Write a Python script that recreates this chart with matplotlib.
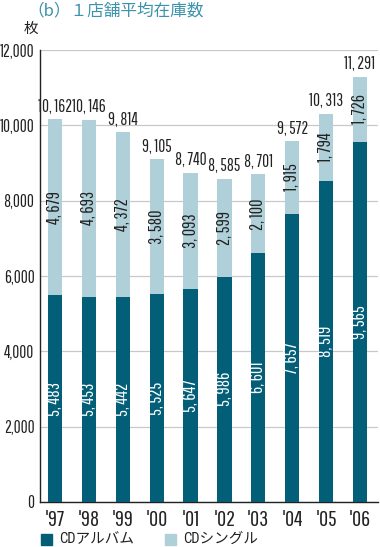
import matplotlib
matplotlib.use("Agg")
import matplotlib.pyplot as plt
from matplotlib.patches import Rectangle

years = ["'97", "'98", "'99", "'00", "'01", "'02", "'03", "'04", "'05", "'06"]
album = [5483, 5453, 5442, 5525, 5647, 5986, 6601, 7657, 8519, 9565]
single = [4679, 4693, 4372, 3580, 3093, 2599, 2100, 1915, 1794, 1726]
totals = [10162, 10146, 9814, 9105, 8740, 8585, 8701, 9572, 10313, 11291]
yticks = [0, 2000, 4000, 6000, 8000, 10000, 12000]

NUM = 'Pathway Gothic One'
CJK = 'Noto Sans CJK JP'
plt.rcParams['font.family'] = [NUM, CJK, 'DejaVu Sans']

c_album = '#035e78'
c_single = '#afd0d9'
c_title = '#3b93ab'
c_text = '#222222'

def fmt(v):
    return f"{v:,}".replace(',', ', ')

fig = plt.figure(figsize=(3.8, 5.47), dpi=100)
ax = fig.add_axes([40/380, 1-502/547, 338/380, (502-50)/547])

x = list(range(len(years)))
w = 0.42
ax.bar(x, album, width=w, color=c_album, zorder=3)
ax.bar(x, single, bottom=album, width=w, color=c_single, zorder=3)

lbl_fs = 13
for i in x:
    ax.text(i, album[i]/2, fmt(album[i]), rotation=90, ha='center', va='center',
            color='white', fontsize=lbl_fs, zorder=4)
    ax.text(i, album[i] + single[i]/2, fmt(single[i]), rotation=90, ha='center', va='center',
            color=c_text, fontsize=lbl_fs, zorder=4)
    ax.text(i, totals[i] + 120, fmt(totals[i]), ha='center', va='bottom',
            color=c_text, fontsize=12.3, zorder=4)

ax.set_xlim(-0.44, 9.53)
ax.set_ylim(0, 12000)
ax.set_yticks(yticks)
ax.set_yticklabels([f"{v:,}" for v in yticks], fontsize=12.3, color=c_text)
ax.set_xticks(x)
ax.set_xticklabels(years, fontsize=16, color=c_text)
ax.tick_params(axis='y', length=0, pad=4)
ax.tick_params(axis='x', length=0, pad=6)
ax.grid(axis='y', color='#c8c8c8', linewidth=0.9, zorder=0)
for s in ['top', 'right']:
    ax.spines[s].set_visible(False)
for s in ['left', 'bottom']:
    ax.spines[s].set_color(c_text)
    ax.spines[s].set_linewidth(1.0)

fig.text(27/380, 1-11/547, '（b）１店舗平均在庫数', color=c_title, fontsize=12,
         ha='left', va='center', family=[CJK, 'DejaVu Sans'])
fig.text(31/380, 1-29/547, '枚', color=c_text, fontsize=10.5, ha='center', va='center',
         family=[CJK, 'DejaVu Sans'])

# legend
LEG = ['Roboto Condensed', CJK, 'DejaVu Sans']
fig.patches.append(Rectangle((41/380, 1-545/547), 11/380, 11/547, transform=fig.transFigure,
                             color=c_album))
fig.text(59/380, 1-539/547, 'CDアルバム', fontsize=10.5, va='center', ha='left', color=c_text,
         family=LEG)
fig.patches.append(Rectangle((165/380, 1-545/547), 11/380, 11/547, transform=fig.transFigure,
                             color=c_single))
fig.text(183/380, 1-539/547, 'CDシングル', fontsize=10.5, va='center', ha='left', color=c_text,
         family=LEG)

fig.savefig('out.png', dpi=100)
